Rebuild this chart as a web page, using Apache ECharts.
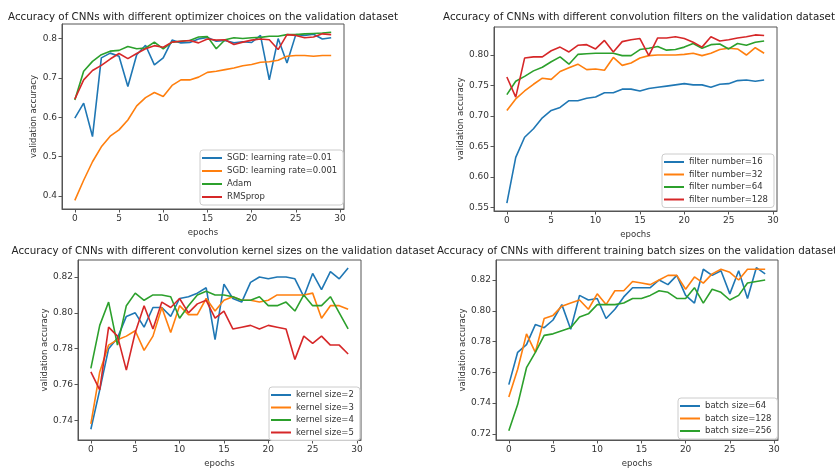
<!DOCTYPE html>
<html>
<head>
<meta charset="utf-8">
<script src="https://cdn.jsdelivr.net/npm/echarts@6/dist/echarts.min.js"></script>
<style>
html,body{margin:0;padding:0;background:#fff;}
#c{width:835px;height:469px;}
</style>
</head>
<body>
<div id="c"></div>
<script>
// ---------- data ----------
const epochs = [0,1,2,3,4,5,6,7,8,9,10,11,12,13,14,15,16,17,18,19,20,21,22,23,24,25,26,27,28,29];
const xTicks = [0,5,10,15,20,25,30];

// Plot 1: optimizers
const titleOpt = "Accuracy of CNNs with different optimizer choices on the validation dataset";
const namesOpt = ["SGD: learning rate=0.01","SGD: learning rate=0.001","Adam","RMSprop"];
const sgd001 = [0.598,0.636,0.551,0.751,0.763,0.755,0.678,0.759,0.783,0.733,0.751,0.796,0.789,0.790,0.799,0.803,0.793,0.795,0.789,0.792,0.790,0.808,0.695,0.800,0.738,0.810,0.808,0.811,0.799,0.802];
const sgd0001 = [0.389,0.440,0.487,0.525,0.552,0.568,0.593,0.629,0.650,0.663,0.653,0.681,0.695,0.695,0.702,0.714,0.717,0.721,0.725,0.731,0.734,0.740,0.741,0.745,0.755,0.757,0.757,0.755,0.757,0.757];
const adam = [0.644,0.717,0.742,0.759,0.768,0.770,0.780,0.774,0.776,0.791,0.774,0.791,0.793,0.795,0.804,0.805,0.774,0.797,0.802,0.800,0.802,0.803,0.806,0.806,0.810,0.810,0.812,0.813,0.814,0.816];
const rmsprop = [0.646,0.695,0.719,0.732,0.748,0.762,0.749,0.762,0.774,0.782,0.778,0.791,0.793,0.795,0.789,0.799,0.796,0.797,0.785,0.791,0.796,0.799,0.797,0.772,0.810,0.808,0.802,0.804,0.812,0.810];
const yTicksOpt = [0.4,0.5,0.6,0.7,0.8];

// Plot 2: filters
const titleFil = "Accuracy of CNNs with different convolution filters on the validation dataset";
const namesFil = ["filter number=16","filter number=32","filter number=64","filter number=128"];
const fil16 = [0.557,0.632,0.665,0.679,0.697,0.709,0.714,0.725,0.725,0.729,0.731,0.738,0.738,0.744,0.744,0.741,0.745,0.747,0.749,0.751,0.753,0.751,0.751,0.747,0.752,0.753,0.758,0.759,0.757,0.759];
const fil32 = [0.709,0.728,0.741,0.752,0.762,0.760,0.773,0.779,0.785,0.776,0.777,0.775,0.796,0.783,0.787,0.795,0.799,0.800,0.800,0.800,0.801,0.803,0.799,0.803,0.809,0.811,0.810,0.800,0.812,0.803];
const fil64 = [0.735,0.757,0.765,0.774,0.780,0.789,0.797,0.785,0.801,0.802,0.803,0.803,0.803,0.799,0.799,0.809,0.811,0.814,0.808,0.809,0.813,0.819,0.811,0.817,0.818,0.810,0.819,0.816,0.821,0.823];
const fil128 = [0.764,0.731,0.795,0.797,0.797,0.807,0.813,0.805,0.816,0.817,0.810,0.824,0.805,0.822,0.825,0.827,0.799,0.828,0.828,0.830,0.827,0.821,0.813,0.830,0.823,0.825,0.828,0.830,0.833,0.832];
const yTicksFil = [0.55,0.60,0.65,0.70,0.75,0.80];

// Plot 3: kernel sizes
const titleKer = "Accuracy of CNNs with different convolution kernel sizes on the validation dataset";
const namesKer = ["kernel size=2","kernel size=3","kernel size=4","kernel size=5"];
const ker2 = [0.735,0.757,0.780,0.786,0.798,0.800,0.792,0.803,0.803,0.798,0.808,0.809,0.811,0.814,0.785,0.816,0.808,0.806,0.817,0.820,0.819,0.820,0.820,0.819,0.809,0.822,0.813,0.823,0.819,0.825];
const ker3 = [0.738,0.767,0.782,0.785,0.787,0.790,0.779,0.787,0.803,0.789,0.804,0.799,0.799,0.808,0.801,0.807,0.809,0.807,0.807,0.806,0.807,0.810,0.810,0.810,0.810,0.811,0.797,0.804,0.804,0.802];
const ker4 = [0.769,0.793,0.806,0.782,0.804,0.811,0.807,0.810,0.810,0.809,0.797,0.804,0.810,0.812,0.810,0.810,0.809,0.807,0.807,0.809,0.804,0.804,0.806,0.801,0.810,0.804,0.804,0.809,0.800,0.791];
const ker5 = [0.767,0.757,0.792,0.787,0.768,0.789,0.804,0.791,0.806,0.803,0.808,0.800,0.805,0.807,0.797,0.801,0.791,0.792,0.793,0.791,0.793,0.792,0.791,0.774,0.787,0.783,0.787,0.782,0.782,0.777];
const yTicksKer = [0.74,0.76,0.78,0.80,0.82];

// Plot 4: batch sizes
const titleBat = "Accuracy of CNNs with different training batch sizes on the validation dataset";
const namesBat = ["batch size=64","batch size=128","batch size=256"];
const bat64 = [0.752,0.773,0.778,0.791,0.789,0.794,0.804,0.788,0.810,0.807,0.808,0.795,0.801,0.809,0.815,0.815,0.815,0.820,0.817,0.823,0.810,0.805,0.827,0.823,0.826,0.811,0.826,0.808,0.828,0.824];
const bat128 = [0.744,0.762,0.785,0.773,0.795,0.797,0.803,0.805,0.807,0.801,0.811,0.804,0.813,0.813,0.819,0.818,0.817,0.820,0.823,0.823,0.814,0.822,0.818,0.824,0.827,0.825,0.820,0.827,0.827,0.827];
const bat256 = [0.722,0.739,0.763,0.773,0.784,0.785,0.787,0.789,0.796,0.798,0.804,0.804,0.804,0.805,0.808,0.808,0.810,0.813,0.812,0.808,0.808,0.815,0.805,0.814,0.812,0.807,0.810,0.818,0.819,0.820];
const yTicksBat = [0.72,0.74,0.76,0.78,0.80,0.82];

// ---------- chart ----------
const colors = ['#1f77b4','#ff7f0e','#2ca02c','#d62728'];
const FONT = 'DejaVu Sans';
const TXT = '#333';
const FRAME = '#555';

const panels = [
  {title:titleOpt, names:namesOpt, data:[sgd001,sgd0001,adam,rmsprop], yTicks:yTicksOpt, dec:1,
   grid:{left:62,top:24,width:282,height:185}, ymin:0.367, ymax:0.837, tx:203, ty:17, yGap:24,
   legend:{left:200,top:150,gap:3}},
  {title:titleFil, names:namesFil, data:[fil16,fil32,fil64,fil128], yTicks:yTicksFil, dec:2,
   grid:{left:494,top:27,width:283,height:184}, ymin:0.544, ymax:0.846, tx:639, ty:17, yGap:28,
   legend:{left:662,top:154,gap:2.5}},
  {title:titleKer, names:namesKer, data:[ker2,ker3,ker4,ker5], yTicks:yTicksKer, dec:2,
   grid:{left:78,top:260,width:283,height:183}, ymin:0.729, ymax:0.8295, tx:223, ty:251, yGap:28,
   legend:{left:269,top:387,gap:2.5}},
  {title:titleBat, names:namesBat, data:[bat64,bat128,bat256], yTicks:yTicksBat, dec:2,
   grid:{left:496,top:260,width:282,height:183}, ymin:0.716, ymax:0.833, tx:637, ty:251, yGap:28,
   legend:{left:678,top:398,gap:2.5}}
];

const option = {
  backgroundColor:'#fff',
  animation:false,
  color:colors,
  grid:[], xAxis:[], yAxis:[], series:[], legend:[], graphic:[]
};

panels.forEach((p,i)=>{
  option.grid.push(Object.assign({show:true, borderColor:FRAME, borderWidth:1, backgroundColor:'#fff'}, p.grid));
  option.xAxis.push({
    type:'value', gridIndex:i, min:-1.45, max:30.45,
    name:'epochs', nameLocation:'middle', nameGap:19,
    nameTextStyle:{fontFamily:FONT,fontSize:8.5,color:TXT},
    axisLine:{show:true, onZero:false, lineStyle:{color:FRAME,width:1}},
    splitLine:{show:false},
    axisTick:{show:true, inside:false, length:3.5, lineStyle:{color:FRAME,width:1}, customValues:xTicks},
    axisLabel:{fontFamily:FONT,fontSize:9,color:TXT,margin:5, customValues:xTicks,
               formatter:v=>String(Math.round(v))}
  });
  option.yAxis.push({
    type:'value', gridIndex:i, min:p.ymin, max:p.ymax,
    name:'validation accuracy', nameLocation:'middle', nameGap:p.yGap,
    nameTextStyle:{fontFamily:FONT,fontSize:8.5,color:TXT},
    axisLine:{show:true, onZero:false, lineStyle:{color:FRAME,width:1}},
    splitLine:{show:false},
    axisTick:{show:true, inside:false, length:3.5, lineStyle:{color:FRAME,width:1}, customValues:p.yTicks},
    axisLabel:{fontFamily:FONT,fontSize:9,color:TXT,margin:5, customValues:p.yTicks,
               formatter:v=>v.toFixed(p.dec)}
  });
  const legendNames = [];
  p.names.forEach((n,k)=>{
    legendNames.push(n);
    option.series.push({
      type:'line', name:n, xAxisIndex:i, yAxisIndex:i,
      data: epochs.map((e,j)=>[e, p.data[k][j]]),
      symbol:'none', showSymbol:false,
      lineStyle:{width:1.6, color:colors[k]},
      itemStyle:{color:colors[k]},
      z:2+k
    });
  });
  option.legend.push({
    data:legendNames, orient:'vertical', left:p.legend.left, top:p.legend.top,
    icon:'rect', itemWidth:20, itemHeight:2, itemGap:p.legend.gap,
    padding:[3,6,3,2],
    borderColor:'#ccc', borderWidth:1, borderRadius:3, backgroundColor:'rgba(255,255,255,0.85)',
    textStyle:{fontFamily:FONT,fontSize:8.5,lineHeight:10,color:TXT},
    selectedMode:false
  });
  option.graphic.push({
    type:'text', x:p.tx, y:p.ty,
    style:{text:p.title, fontFamily:FONT, fontSize:10.3, fill:'#222', align:'center', verticalAlign:'middle'}
  });
});

const chart = echarts.init(document.getElementById('c'), null, {renderer:'canvas'});
chart.setOption(option);
</script>
</body>
</html>
